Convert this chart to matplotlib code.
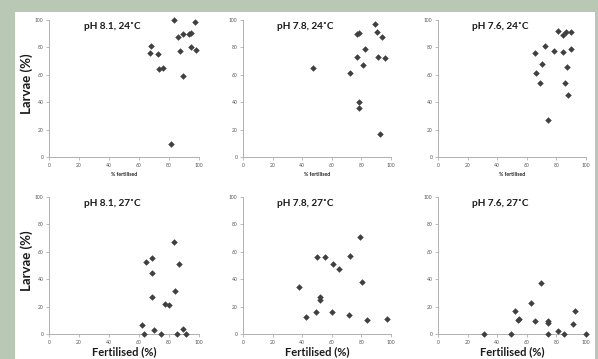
import matplotlib
matplotlib.use('Agg')
import matplotlib.pyplot as plt
from matplotlib.patches import Rectangle

plt.rcParams['font.family'] = ['Lato', 'DejaVu Sans']

# --- data ---
titles = ['pH 8.1, 24˚C', 'pH 7.8, 24˚C', 'pH 7.6, 24˚C',
          'pH 8.1, 27˚C', 'pH 7.8, 27˚C', 'pH 7.6, 27˚C']

ph81_24_x = [68.0, 67.6, 72.8, 73.0, 76.2, 83.2, 86.1, 89.3, 87.5, 93.6, 94.5, 97.6, 94.5, 98.3, 89.5, 81.4]
ph81_24_y = [81.2, 75.9, 75.4, 64.1, 64.9, 100.0, 87.8, 89.8, 77.6, 89.8, 90.5, 98.8, 80.2, 78.0, 58.8, 9.8]

ph78_24_x = [47.6, 72.2, 77.2, 78.6, 77.2, 78.1, 78.3, 82.4, 81.3, 88.9, 90.5, 93.9, 91.0, 96.2, 92.6]
ph78_24_y = [64.9, 61.2, 89.5, 90.2, 73.2, 40.5, 36.1, 78.8, 67.1, 96.8, 91.5, 87.6, 72.7, 72.0, 16.8]

ph76_24_x = [65.5, 66.2, 69.1, 70.3, 72.1, 78.2, 81.3, 84.5, 86.7, 89.6, 84.7, 89.9, 86.9, 85.6, 87.6, 74.5]
ph76_24_y = [76.1, 61.5, 54.1, 67.8, 81.0, 77.6, 92.2, 88.8, 91.5, 91.0, 76.3, 78.5, 65.6, 54.1, 45.1, 26.8]

ph81_27_x = [62.1, 63.3, 64.9, 68.9, 68.5, 68.5, 70.3, 74.4, 77.3, 79.8, 83.2, 83.7, 86.4, 85.5, 89.1, 91.4]
ph81_27_y = [6.8, 0.0, 52.6, 55.5, 44.5, 27.0, 3.2, 0.0, 21.9, 20.9, 67.2, 31.6, 50.9, 0.0, 3.4, 0.0]

ph78_27_x = [37.8, 42.8, 49.1, 49.8, 55.2, 52.3, 52.3, 60.6, 60.4, 64.6, 72.1, 71.6, 79.3, 80.6, 83.8, 97.3]
ph78_27_y = [34.3, 12.4, 16.3, 56.2, 56.2, 26.8, 25.1, 51.1, 16.3, 47.2, 56.7, 14.1, 70.6, 37.7, 10.2, 11.2]

ph76_27_x = [31.1, 49.3, 51.8, 53.8, 55.0, 62.6, 65.5, 69.6, 74.3, 74.3, 74.5, 81.1, 85.1, 91.0, 92.8, 100.0]
ph76_27_y = [0.0, 0.0, 16.8, 10.0, 10.9, 22.4, 9.2, 37.0, 9.2, 7.8, 0.0, 2.2, 0.0, 7.3, 16.5, 0.0]

series_x = [ph81_24_x, ph78_24_x, ph76_24_x, ph81_27_x, ph78_27_x, ph76_27_x]
series_y = [ph81_24_y, ph78_24_y, ph76_24_y, ph81_27_y, ph78_27_y, ph76_27_y]

ticks = [0, 20, 40, 60, 80, 100]

W, H = 598, 359
fig = plt.figure(figsize=(W / 100, H / 100), dpi=100, facecolor='#b8c8b4')

# white slide panel, kept behind the axes
fig.patches.append(Rectangle((15 / W, 0), 580 / W, 1 - 12 / H,
                             transform=fig.transFigure, facecolor='white',
                             edgecolor='none', zorder=-10))

# axes boxes in pixels: (left, width)
cols = [(49, 150), (243, 148), (438, 148)]
rows = [(157, 137), (334, 137)]  # (y of zero line, height)

for i in range(6):
    r, c = divmod(i, 3)
    left, width = cols[c]
    y0, height = rows[r]
    ax = fig.add_axes([left / W, 1 - y0 / H, width / W, height / H])
    ax.set_facecolor('none')
    ax.scatter(series_x[i], series_y[i], marker='D', s=11, color='#404040',
               linewidths=0, zorder=3, clip_on=False)
    ax.set_xlim(0, 100)
    ax.set_ylim(0, 100)
    ax.set_xticks(ticks)
    ax.set_yticks(ticks)
    for side in ['top', 'right']:
        ax.spines[side].set_visible(False)
    for side in ['left', 'bottom']:
        ax.spines[side].set_color('#b0b0b0')
        ax.spines[side].set_linewidth(0.7)
    ax.tick_params(length=2, width=0.6, color='#b0b0b0', labelsize=3.6,
                   labelcolor='#555555', pad=2)
    ax.text(42, 95, titles[i], ha='center', va='center', fontsize=7.2,
            fontweight='bold', color='#1a1a1a')

    cx = (left + width / 2) / W
    if r == 0:
        fig.text(cx, 1 - 174 / H, '% fertilised', ha='center', va='center',
                 fontsize=3.8, fontweight='bold', color='#222222')
    else:
        fig.text(cx, 1.5 / H, 'Fertilised (%)', ha='center', va='bottom',
                 fontsize=8, fontweight='bold', color='#1a1a1a')
    if c == 0:
        fig.text(27 / W, 1 - (y0 - height / 2 - 5) / H, 'Larvae (%)',
                 rotation=90, ha='center', va='center', fontsize=9.5,
                 fontweight='bold', color='#1a1a1a')

fig.savefig('out.png', dpi=100, facecolor=fig.get_facecolor())
